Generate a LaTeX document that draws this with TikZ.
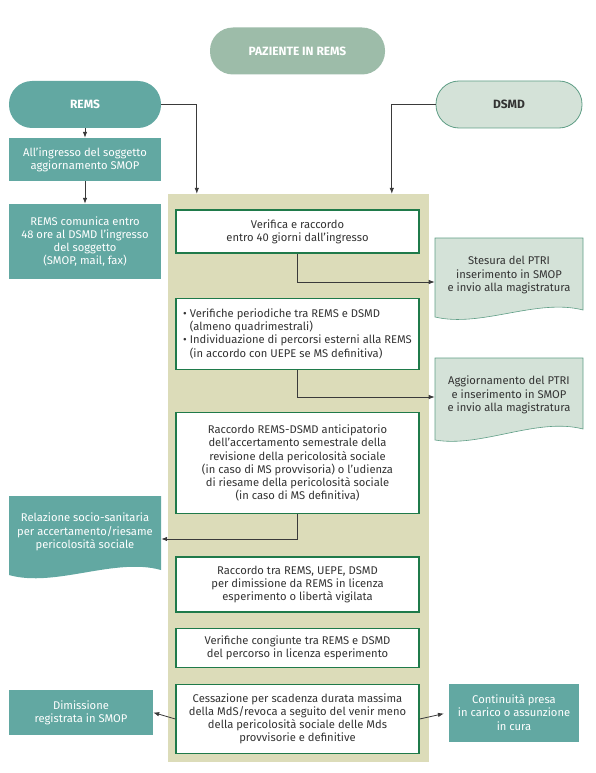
\documentclass[tikz,border=0pt]{standalone}
\usepackage{fontspec}
\setmainfont{Fira Sans}
\usepackage{tikz}
\usetikzlibrary{shapes, arrows.meta, positioning, calc}

\definecolor{remsteal}{HTML}{62A8A2}
\definecolor{pazgreen}{HTML}{9DBCA9}
\definecolor{dsmdfill}{HTML}{D4E2D8}
\definecolor{dsmdline}{HTML}{5F9E86}
\definecolor{areabg}{HTML}{DCDCB9}
\definecolor{boxline}{HTML}{1F7A4A}
\definecolor{linkgrey}{HTML}{3A3A3A}
\definecolor{textgrey}{HTML}{333333}

\begin{document}
\begin{tikzpicture}[x=1pt, y=-1pt,
					every node/.style={align=center, inner sep=0pt, text=textgrey,
						font=\fontsize{11.2}{13.2}\selectfont},
					pill/.style={rounded corners=23pt, minimum height=47pt,
						font=\fontsize{12}{13.2}\selectfont\bfseries},
					tealbox/.style={fill=remsteal, text=white, minimum width=152pt},
					stepbox/.style={draw=boxline, line width=1.3pt, fill=white,
						minimum width=243pt},
					docshape/.style={fill=dsmdfill, draw=dsmdline, line width=0.6pt},
					arr/.style={-{Latex[length=6pt,width=4.5pt]}, linkgrey, line width=0.8pt},
					node distance=42pt]
				\useasboundingbox (0,0) rectangle (596,773);
				% area centrale
				\node[fill=areabg, minimum width=261pt, minimum height=568pt] (area) at (298.5,478) {};
				\coordinate (inL) at ($(area.north west)+(29,0)$);
				\coordinate (inR) at ($(area.north west)+(224,0)$);
				% intestazioni
				\node[pill, fill=pazgreen, text=white, minimum width=175pt] (paz) at (297.5,51) {PAZIENTE IN REMS};
				\node[pill, tealbox] (rems) at (85,104.5) {REMS};
				\node[pill, fill=dsmdfill, draw=dsmdline, line width=0.8pt, minimum width=146pt] (dsmd) at (509,104.5) {DSMD};
				% colonna REMS
				\node[tealbox, minimum height=43pt] (ingr) at (85,159.5) {All’ingresso del soggetto\\aggiornamento SMOP};
				\node[tealbox, minimum height=75pt] (com) at (85,241.5) {REMS comunica entro\\48 ore al DSMD l’ingresso\\del soggetto\\(SMOP, mail, fax)};
				% passi centrali
				\node[stepbox, minimum height=43pt] (ver) at (297.5,231.5) {Verifica e raccordo\\entro 40 giorni dall’ingresso};
				\node[stepbox, minimum height=71pt, below=44pt of ver, align=left] (per)
					{• Verifiche periodiche tra REMS e DSMD\\\phantom{• }(almeno quadrimestrali)\\• Individuazione di percorsi esterni alla REMS\\\phantom{• }(in accordo con UEPE se MS definitiva)};
				\node[stepbox, minimum height=101pt, below=of per] (racc)
					{Raccordo REMS-DSMD anticipatorio\\dell’accertamento semestrale della\\revisione della pericolosità sociale\\(in caso di MS provvisoria) o l’udienza\\di riesame della pericolosità sociale\\(in caso di MS definitiva)};
				\node[stepbox, minimum height=55pt, below=of racc] (rtra)
					{Raccordo tra REMS, UEPE, DSMD\\per dimissione da REMS in licenza\\esperimento o libertà vigilata};
				\node[stepbox, minimum height=39pt, below=15pt of rtra] (vcong)
					{Verifiche congiunte tra REMS e DSMD\\del percorso in licenza esperimento};
				\node[stepbox, minimum height=69pt, below=16pt of vcong] (cess)
					{Cessazione per scadenza durata massima\\della MdS/revoca a seguito del venir meno\\della pericolosità sociale delle Mds\\provvisorie e definitive};
				% documenti
				\path[docshape] (435,238) -- (583,238) -- (583,310)
					.. controls (537,298) and (481,328) .. (435,317) -- cycle
					node[minimum width=148pt] (stes) at (509,275) {Stesura del PTRI\\inserimento in SMOP\\e invio alla magistratura};
				\path[docshape] (435,358) -- (583,358) -- (583,429)
					.. controls (537,417) and (481,448) .. (435,440) -- cycle
					node[minimum width=148pt] (agg) at (509,395) {Aggiornamento del PTRI\\e inserimento in SMOP\\e invio alla magistratura};
				\path[fill=remsteal] (9,496) -- (161,496) -- (161,570)
					.. controls (115,557) and (55,588) .. (9,575) -- cycle
					node[minimum width=152pt, text=white] (rel) at (85,532) {Relazione socio-sanitaria\\per accertamento/riesame\\pericolosità sociale};
				% uscite
				\node[tealbox, minimum width=144pt, minimum height=45pt] (dim) at (81,712.5) {Dimissione\\registrata in SMOP};
				\node[tealbox, minimum width=130pt, minimum height=58pt] (cont) at (514,712.5) {Continuità presa\\in carico o assunzione\\in cura};
				% collegamenti
				\draw[arr] (rems.east) -| (inL);
				\draw[arr] (dsmd.west) -| (inR);
				\foreach \from/\to in {rems/ingr, ingr/com}
					\draw[arr] (\from) -- (\to);
				\draw[arr] (ver.south) |- ([yshift=-7pt]stes.west);
				\draw[arr] (per.south) |- ([yshift=-2pt]agg.west);
				\draw[arr] (racc.south) |- ([yshift=-7pt]rel.east);
				\draw[arr] (cess.west) -- (dim.east);
				\draw[arr, shorten >=5pt] (cess.east) -- (cont.west);
			\end{tikzpicture}
\end{document}
